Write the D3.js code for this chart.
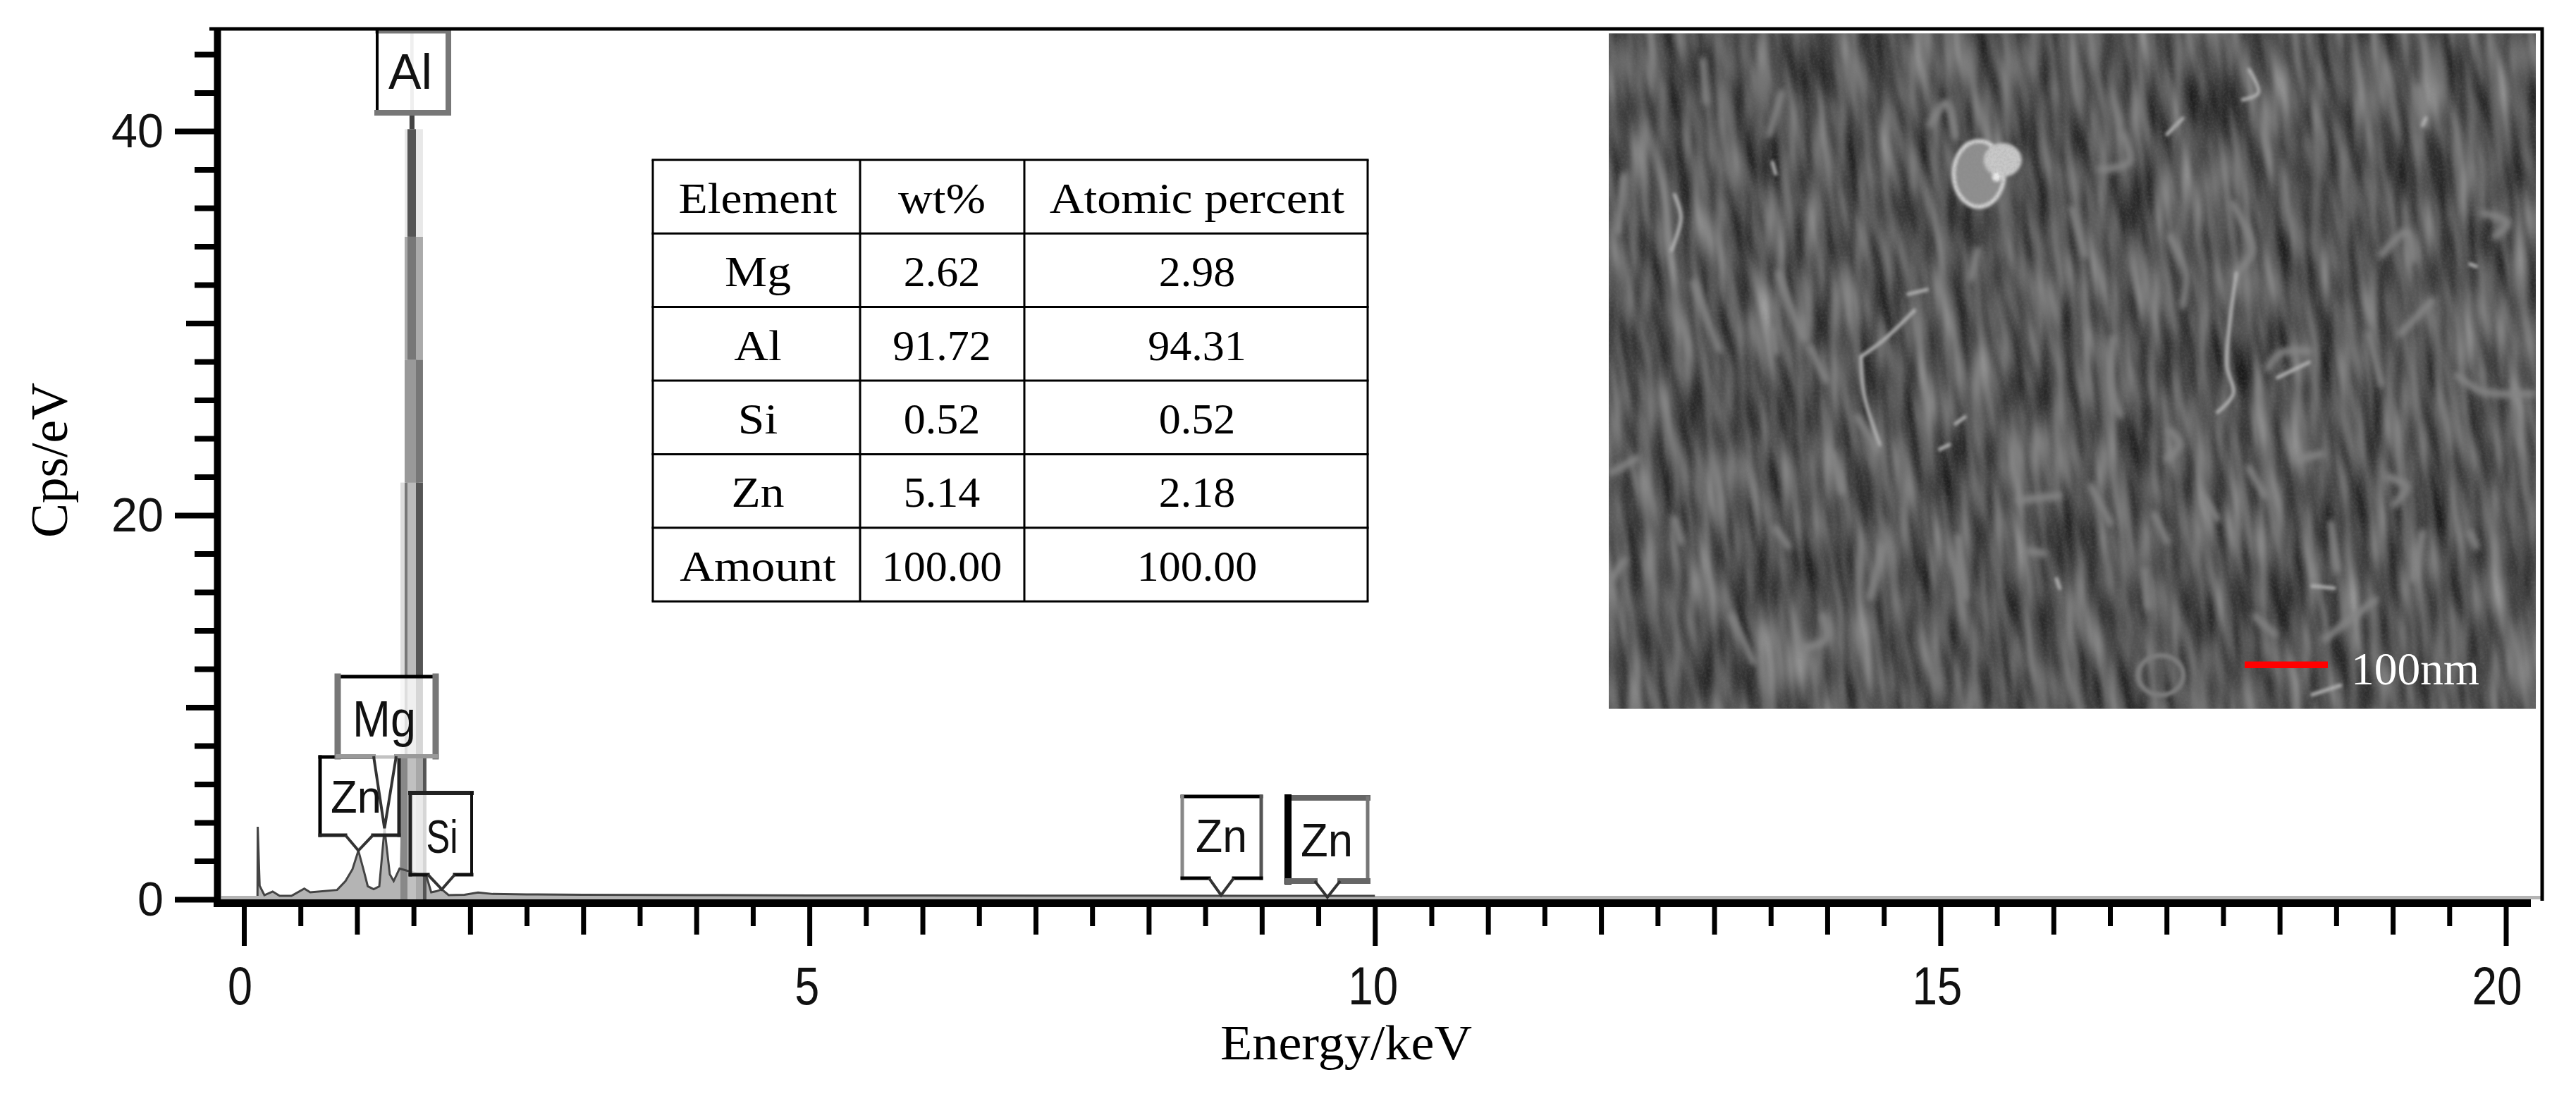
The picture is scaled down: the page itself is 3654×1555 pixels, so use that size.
<!DOCTYPE html>
<html><head><meta charset="utf-8">
<style>html,body{margin:0;padding:0;background:#fff}svg{display:block}</style>
<script src="https://d3js.org/d3.v7.min.js"></script>
</head><body>
<svg id="c" width="3654" height="1555" xmlns="http://www.w3.org/2000/svg"></svg>
<script>
// ---------- data ----------
const energies = [-0.2,0,0.12,0.122,0.139,0.181,0.254,0.316,0.42,0.534,0.586,0.824,0.898,0.96,1.012,1.064,1.095,1.147,1.197,1.243,1.29,1.324,1.376,1.40,1.44,1.475,1.49,1.505,1.54,1.58,1.614,1.656,1.70,1.75,1.81,1.95,2.07,2.2,2.5,3,4,5,6,7,8,9,10,12,15,20,20.35];
const counts   = [0.18,0.18,0.18,3.78,0.71,0.22,0.41,0.18,0.18,0.56,0.37,0.49,0.95,1.57,2.54,1.4,0.68,0.53,0.68,3.7,1.3,0.95,1.6,6,24,40,46,40,24,6,1.2,0.37,0.42,0.52,0.22,0.24,0.36,0.28,0.26,0.24,0.22,0.2,0.2,0.19,0.19,0.18,0.18,0.18,0.18,0.18,0.18];
const xMajor = [0,5,10,15,20];
const xMid   = [1,2,3,4,6,7,8,9,11,12,13,14,16,17,18,19];
const xMinor = [0.5,1.5,2.5,3.5,4.5,5.5,6.5,7.5,8.5,9.5,10.5,11.5,12.5,13.5,14.5,15.5,16.5,17.5,18.5,19.5];
const yMajor = [0,20,40];
const yMid   = [10,30];
const yMinor = [2,4,6,8,12,14,16,18,22,24,26,28,32,34,36,38,42,44];
const xTitle = "Energy/keV";
const yTitle = "Cps/eV";
const peakNames    = ["Zn","Mg","Si","Al","Zn","Zn"];
const peakEnergies = [1.012,1.243,1.75,1.486,8.64,9.58];
const peakTips     = [2.54,3.7,0.52,40.9,0.22,0.11];
const tableHeader  = ["Element","wt%","Atomic percent"];
const tableElement = ["Mg","Al","Si","Zn","Amount"];
const tableWt      = ["2.62","91.72","0.52","5.14","100.00"];
const tableAtomic  = ["2.98","94.31","0.52","2.18","100.00"];
const scaleBarText = "100nm";

// ---------- layout ----------
const svg = d3.select("#c");
const x = d3.scaleLinear().domain([0,20]).range([346,3554.5]);
const y = d3.scaleLinear().domain([0,40]).range([1276,186]);
const ink = "#000";
const sans = "'Liberation Sans',Arial,sans-serif";
const serif = "'Liberation Serif','Times New Roman',serif";

const defs = svg.append("defs");
defs.append("clipPath").attr("id","plot").append("rect").attr("x",308).attr("y",41).attr("width",3298).attr("height",1236);

// ---------- micrograph inset (texture, not data) ----------
const semBox = {x:2282,y:47.5,w:1315,h:958};
defs.append("clipPath").attr("id","sem").append("rect").attr("x",semBox.x).attr("y",semBox.y).attr("width",semBox.w).attr("height",semBox.h);
const tf = defs.append("filter").attr("id","semTex").attr("x",0).attr("y",0).attr("width",1).attr("height",1).attr("color-interpolation-filters","sRGB");
tf.append("feTurbulence").attr("type","fractalNoise").attr("baseFrequency","0.042 0.0085").attr("numOctaves",2).attr("seed",11);
tf.append("feColorMatrix").attr("type","matrix").attr("values","0.62 0 0 0 0.03  0.62 0 0 0 0.03  0.62 0 0 0 0.03  0 0 0 0 1");
const grain = defs.append("filter").attr("id","semGrain").attr("x",0).attr("y",0).attr("width",1).attr("height",1).attr("color-interpolation-filters","sRGB");
grain.append("feTurbulence").attr("type","fractalNoise").attr("baseFrequency","0.28").attr("numOctaves",2).attr("seed",3);
grain.append("feColorMatrix").attr("type","matrix").attr("values","0 0 0 0 0.5  0 0 0 0 0.5  0 0 0 0 0.5  1.2 0 0 0 -0.45");
defs.append("filter").attr("id","soft").attr("filterUnits","userSpaceOnUse").attr("x",2282).attr("y",47).attr("width",1315).attr("height",958).append("feGaussianBlur").attr("stdDeviation",2.2);
defs.append("filter").attr("id","soft2").attr("filterUnits","userSpaceOnUse").attr("x",2282).attr("y",47).attr("width",1315).attr("height",958).append("feGaussianBlur").attr("stdDeviation",4.5);

// ridges traced in the coordinate frame of the inset crop
const semX = d3.scaleLinear().domain([0,1568]).range([2250,3654]);
const semY = d3.scaleLinear().domain([0,1568]).range([20,1050]);
const brightRidges = [
 [[1030,560],[1020,660],[1015,760],[1025,820],[1000,860]],
 [[1095,785],[1145,752]],
 [[510,605],[540,595]],
 [[435,740],[470,705],[520,640]],
 [[435,740],[440,820],[465,930]],
 [[1050,120],[1065,170],[1040,185]],
 [[920,260],[945,225]],
 [[1150,1470],[1195,1450]],
 [[1150,1235],[1185,1240]],
 [[560,940],[575,930]],
 [[585,885],[600,870]],
 [[140,390],[150,440],[135,510]],
 [[295,320],[300,345]],
 [[1325,240],[1330,225]],
 [[1400,540],[1410,545]],
 [[745,1220],[750,1240]]
];
const dimRidges = [
 [[1080,765],[1100,732],[1145,728]],
 [[1025,410],[1055,510],[1030,560]],
 [[835,700],[830,800],[845,865]],
 [[920,960],[940,930],[925,900]],
 [[815,335],[860,320],[850,260]],
 [[925,480],[950,560],[945,630]],
 [[1420,430],[1460,450],[1440,480]],
 [[1260,520],[1300,470],[1310,530]],
 [[1380,780],[1420,815],[1500,820]],
 [[170,580],[210,725]],
 [[295,680],[300,730]],
 [[355,720],[380,790]],
 [[40,990],[80,960]],
 [[40,1220],[60,1180]],
 [[390,950],[405,1030]],
 [[300,1110],[320,1150]],
 [[685,1050],[750,1040]],
 [[700,1160],[725,1165]],
 [[1170,1350],[1250,1265]],
 [[1310,1220],[1325,1120]],
 [[1270,1000],[1300,1020],[1280,1060]],
 [[890,1280],[885,1200]],
 [[1400,1120],[1410,1150]],
 [[345,1370],[380,1350],[375,1300]],
 [[450,1260],[470,1150]],
 [[545,240],[570,190],[585,265]],
 [[1330,240],[1320,160]],
 [[185,100],[190,190]],
 [[290,260],[310,170]],
 [[60,350],[50,470]],
 [[305,560],[320,620],[345,700]],
 [[430,870],[460,940]],
 [[620,510],[610,570]],
 [[770,420],[790,520]],
 [[1240,690],[1260,800]],
 [[1340,620],[1290,690]],
 [[1180,1100],[1190,1200]],
 [[1060,1300],[1090,1340]],
 [[590,1130],[600,1260]],
 [[140,1090],[150,1140]],
 [[230,1300],[265,1400]],
 [[830,1100],[800,1020]],
 [[900,1080],[920,1140]],
 [[980,1050],[1000,1090]],
 [[1050,980],[1075,1040]],
 [[1130,960],[1165,950]]
];
const ridgeLine = d3.line().x(d=>semX(d[0])).y(d=>semY(d[1])).curve(d3.curveCatmullRom);
const sem = svg.append("g").attr("clip-path","url(#sem)");
sem.append("rect").attr("x",semBox.x).attr("y",semBox.y).attr("width",semBox.w).attr("height",semBox.h).attr("fill","#555");
sem.append("rect").attr("x",semBox.x-300).attr("y",semBox.y-300).attr("width",semBox.w+600).attr("height",semBox.h+600)
   .attr("transform",`rotate(-6 ${semBox.x+semBox.w/2} ${semBox.y+semBox.h/2})`).attr("filter","url(#semTex)");
sem.append("g").attr("filter","url(#soft2)").selectAll("path").data(dimRidges).join("path")
   .attr("d",ridgeLine).attr("fill","none").attr("stroke","#858585").attr("stroke-width",10).attr("stroke-linecap","round");
sem.append("g").attr("filter","url(#soft)").selectAll("path").data(brightRidges).join("path")
   .attr("d",ridgeLine).attr("fill","none").attr("stroke","#b4b4b4").attr("stroke-width",5).attr("stroke-linecap","round");
// particle and ring
const part = sem.append("g").attr("filter","url(#soft)");
part.append("ellipse").attr("cx",semX(622)).attr("cy",semY(345)).attr("rx",36).attr("ry",47).attr("fill","#8f8f8f").attr("stroke","#dcdcdc").attr("stroke-width",5);
part.append("ellipse").attr("cx",semX(660)).attr("cy",semY(315)).attr("rx",27).attr("ry",24).attr("fill","#c8c8c8");
part.append("circle").attr("cx",semX(650)).attr("cy",semY(352)).attr("r",6).attr("fill","#eee");
sem.append("ellipse").attr("cx",semX(910)).attr("cy",semY(1428)).attr("rx",32).attr("ry",28).attr("fill","none").attr("stroke","#7d7d7d").attr("stroke-width",7).attr("filter","url(#soft)");
sem.append("rect").attr("x",semBox.x).attr("y",semBox.y).attr("width",semBox.w).attr("height",semBox.h).attr("filter","url(#semGrain)").attr("opacity",.3);
svg.append("rect").attr("x",3184).attr("y",938.5).attr("width",118).attr("height",9.5).attr("fill","#f00");
svg.append("text").attr("x",3335).attr("y",971).attr("font-family",serif).attr("font-size",65).attr("fill","#fff")
   .attr("textLength",182).attr("lengthAdjust","spacingAndGlyphs").text(scaleBarText);

// ---------- spectrum ----------
const pts = energies.map((e,i)=>[e,counts[i]]);
const plot = svg.append("g").attr("clip-path","url(#plot)");
plot.append("path").datum(pts)
  .attr("d",d3.area().x(d=>x(d[0])).y0(y(0)).y1(d=>y(d[1]))).attr("fill","#b4b4b4");

// Al peak as rendered: resampled grey strips, stacked by height
const alEdges = [1.384,1.421,1.446,1.521,1.583,1.614];
const alLevels = [0,7.45,21.7,28.1,34.5,40.1];
const alShades = [
 ["#888","#888","#c0c0c0","#a8a8a8","#555"],
 ["#ddd","#777","#bbb","#555",null],
 [null,"#999","#999","#777",null],
 [null,"#aaa","#777","#aaa",null],
 [null,"#e8e8e8","#555","#e8e8e8",null]
];
alShades.forEach((row,i)=>row.forEach((c,j)=>{
  if(!c) return;
  plot.append("rect").attr("x",x(alEdges[j])).attr("width",x(alEdges[j+1])-x(alEdges[j]))
    .attr("y",y(alLevels[i+1])).attr("height",y(alLevels[i])-y(alLevels[i+1])).attr("fill",c);
}));
plot.append("path").datum(pts.filter(d=>d[0]>=0.1&&(d[0]<1.38||d[0]>1.6)&&d[0]<=10))
  .attr("d",d3.line().x(d=>x(d[0])).y(d=>y(d[1]))).attr("fill","none").attr("stroke","#444").attr("stroke-width",3);
plot.append("rect").attr("x",x(1.471)).attr("width",x(1.50)-x(1.471)).attr("y",y(46)).attr("height",y(40.1)-y(46)).attr("fill","#bbb");
plot.append("rect").attr("x",x(1.464)).attr("width",x(1.508)-x(1.464)).attr("y",y(40.9)).attr("height",y(40.1)-y(40.9)).attr("fill","#444");

// ---------- callout labels ----------
const boxes = [
 {l:454,r:566,t:1074,b:1185,pl:490,pr:529,tx:505,ty:1153,tw:72,fs:64,edges:[["#000",5],["#222",5],["#222",5],["#000",5]]},
 {l:479,r:618,t:960,b:1073,pl:530,pr:562,tx:545,ty:1045,tw:90,fs:72,edges:[["#000",5],["#777",9],["#999",6],["#777",9]]},
 {l:582,r:669,t:1125,b:1241,pl:607,pr:645,tx:627,ty:1210,tw:45,fs:66,edges:[["#222",6],["#111",4],["#111",5],["#222",5]]},
 {l:535,r:636,t:45,b:160,pl:null,pr:null,tx:582,ty:126,tw:62,fs:70,edges:[["#777",5],["#777",8],["#777",8],["#000",4]]},
 {l:1677,r:1789,t:1130,b:1246,pl:1715,pr:1750,tx:1732.5,ty:1209,tw:73,fs:66,edges:[["#000",5],["#555",5],["#000",5],["#888",5]]},
 {l:1827,r:1940,t:1132,b:1250,pl:1865,pr:1901,tx:1882,ty:1215,tw:74,fs:66,edges:[["#666",8],["#777",5],["#666",8],["#000",10]]}
];
peakNames.forEach((name,i)=>{
  const b = boxes[i], g = svg.append("g"), tipX = x(peakEnergies[i]), tipY = y(peakTips[i]);
  const outline = b.pl===null
    ? [[b.l,b.t],[b.r,b.t],[b.r,b.b],[b.l,b.b]]
    : [[b.l,b.t],[b.r,b.t],[b.r,b.b],[b.pr,b.b],[tipX,tipY],[b.pl,b.b],[b.l,b.b]];
  g.append("path").attr("d","M"+outline.join("L")+"Z").attr("fill","#fff").attr("fill-opacity",.76);
  const e = b.edges;
  const segs = [
    [[b.l,b.t],[b.r,b.t],e[0]],
    [[b.r,b.t],[b.r,b.b],e[1]],
    [[b.l,b.t],[b.l,b.b],e[3]]
  ];
  if(b.pl===null) segs.push([[b.l,b.b],[b.r,b.b],e[2]]);
  else segs.push([[b.r,b.b],[b.pr,b.b],e[2]],[[b.pl,b.b],[b.l,b.b],e[2]]);
  segs.forEach(s=>g.append("line").attr("x1",s[0][0]).attr("y1",s[0][1]).attr("x2",s[1][0]).attr("y2",s[1][1])
     .attr("stroke",s[2][0]).attr("stroke-width",s[2][1]).attr("stroke-linecap","square"));
  if(b.pl!==null) g.append("path").attr("d",`M${b.pl},${b.b}L${tipX},${tipY}L${b.pr},${b.b}`)
     .attr("fill","none").attr("stroke","#333").attr("stroke-width",4);
  g.append("text").attr("x",b.tx).attr("y",b.ty).attr("text-anchor","middle").attr("font-family",sans).attr("font-size",b.fs)
     .attr("fill","#111").attr("textLength",b.tw).attr("lengthAdjust","spacingAndGlyphs").text(name);
});

// ---------- frame ----------
svg.append("path").attr("d",d3.line()([[297,41],[3606,41],[3606,1278]])).attr("fill","none").attr("stroke",ink).attr("stroke-width",5);
svg.append("line").attr("x1",308.5).attr("x2",308.5).attr("y1",41).attr("y2",1287).attr("stroke",ink).attr("stroke-width",10);
svg.append("line").attr("x1",303).attr("x2",3590).attr("y1",1281.5).attr("y2",1281.5).attr("stroke",ink).attr("stroke-width",11);

// ---------- axes ----------
const xLabelShift = {0:-6,5:-4,10:-3,15:-5,20:-13};
function xAxis(vals,len,labelled){
  const a = d3.axisBottom(x).tickValues(vals).tickSize(len).tickSizeOuter(0).tickPadding(28)
              .tickFormat(labelled?d3.format("d"):"");
  const g = svg.append("g").attr("transform","translate(0,1281)").call(a);
  g.select(".domain").remove();
  g.selectAll("line").attr("stroke",ink).attr("stroke-width",7);
  g.selectAll("text").attr("font-family",sans).attr("font-size",76).attr("fill","#111")
    .attr("text-anchor","middle").attr("dy",null).attr("y",144).attr("x",d=>xLabelShift[d])
    .attr("textLength",d=>d<10?35:71).attr("lengthAdjust","spacingAndGlyphs");
}
xAxis(xMinor,33,false); xAxis(xMid,45,false); xAxis(xMajor,61,true);
function yAxis(vals,len,labelled){
  const a = d3.axisLeft(y).tickValues(vals).tickSize(len).tickSizeOuter(0).tickPadding(16)
              .tickFormat(labelled?d3.format("d"):"");
  const g = svg.append("g").attr("transform","translate(308,0)").call(a);
  g.select(".domain").remove();
  g.selectAll("line").attr("stroke",ink).attr("stroke-width",8);
  g.selectAll("text").attr("font-family",sans).attr("font-size",68).attr("fill","#111")
    .attr("text-anchor","end").attr("dy",null).attr("x",-76).attr("y",22)
    .attr("textLength",d=>d<10?37:74).attr("lengthAdjust","spacingAndGlyphs");
}
yAxis(yMinor,32,false); yAxis(yMid,44,false); yAxis(yMajor,60,true);

svg.append("text").attr("x",1731).attr("y",1503).attr("font-family",serif).attr("font-size",70).attr("fill","#000")
   .attr("textLength",357).attr("lengthAdjust","spacingAndGlyphs").text(xTitle);
svg.append("text").attr("transform","translate(95,763) rotate(-90)").attr("font-family",serif).attr("font-size",74).attr("fill","#000")
   .attr("textLength",220).attr("lengthAdjust","spacingAndGlyphs").text(yTitle);

// ---------- composition table ----------
const colEdges = [926,1220,1453,1940];
const rowTop = 226.8, rowH = 104.4, nRows = tableElement.length+1;
const rows = [tableHeader].concat(tableElement.map((e,i)=>[e,tableWt[i],tableAtomic[i]]));
const rowY = d3.scaleLinear().domain([0,nRows]).range([rowTop,rowTop+rowH*nRows]);
const colC = [1075,1336,1698];
const tbl = svg.append("g");
d3.range(nRows+1).forEach(r=>tbl.append("line").attr("x1",colEdges[0]-1.5).attr("x2",colEdges[3]+1.5)
   .attr("y1",rowY(r)).attr("y2",rowY(r)).attr("stroke",ink).attr("stroke-width",3));
colEdges.forEach(cx=>tbl.append("line").attr("x1",cx).attr("x2",cx).attr("y1",rowY(0)).attr("y2",rowY(nRows))
   .attr("stroke",ink).attr("stroke-width",3));
rows.forEach((row,r)=>row.forEach((t,c)=>{
  const node = tbl.append("text").attr("x",colC[c]).attr("y",rowY(r)+75).attr("text-anchor","middle")
    .attr("font-family",serif).attr("font-size",62).attr("fill","#000").text(t);
  const natural = node.node().getComputedTextLength();
  node.attr("textLength",natural*(/^\d/.test(t)?1.0:1.09)).attr("lengthAdjust","spacingAndGlyphs");
}));
</script>
</body></html>
